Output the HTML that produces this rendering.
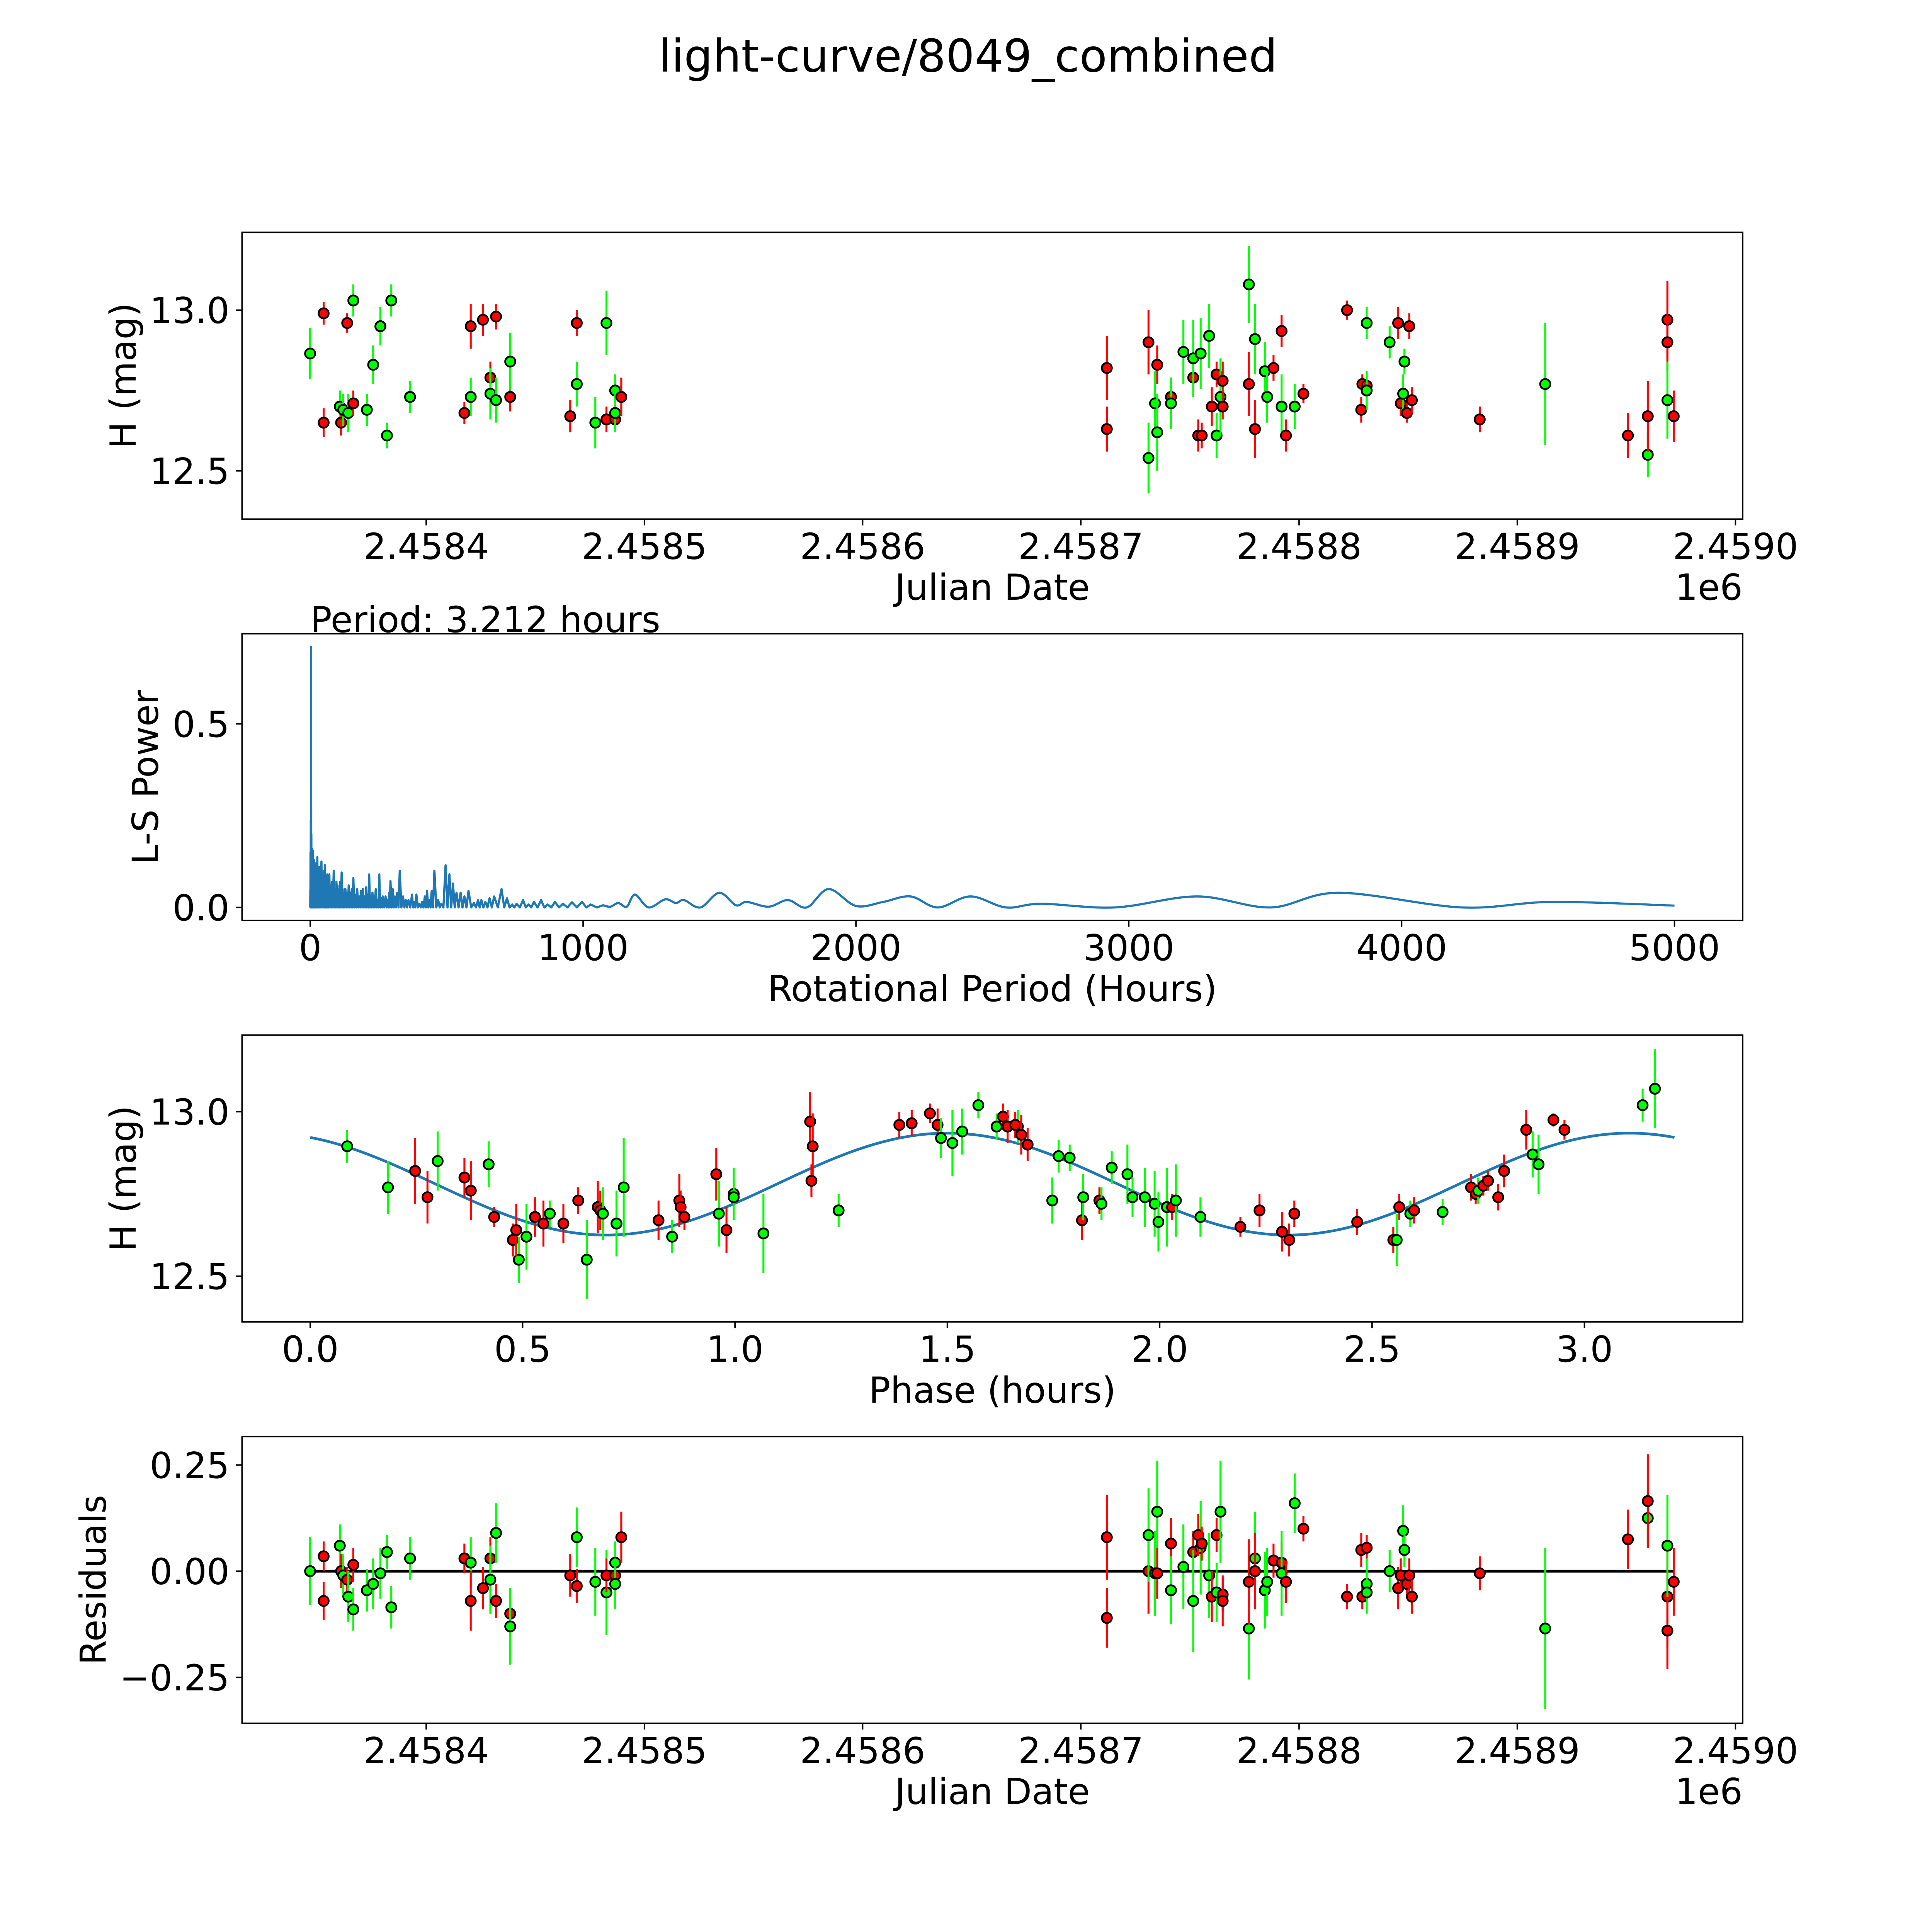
<!DOCTYPE html>
<html><head><meta charset="utf-8"><title>light-curve/8049_combined</title>
<style>html,body{margin:0;padding:0;background:#fff;overflow:hidden}svg{display:block}text{font-family:"DejaVu Sans","Liberation Sans",sans-serif;fill:#000}</style>
</head><body>
<svg id="fig" xmlns="http://www.w3.org/2000/svg" width="5400" height="5400" viewBox="0 0 5819 5819">
<rect width="5819" height="5819" fill="#fff"/>
<text x="2700" y="200" font-size="126" text-anchor="middle">light-curve/8049_combined</text>
<g id="layer"></g>
</svg>
<script>
// ---------- Panel 1 & 4 data (JD - 2458000) ----------
const jd=[346.8,353,353,360.4,361,362,363.8,364.3,366.6,366.6,372.8,375.7,379,382,384,392.6,417.5,420.4,420.4,426,429.4,429.4,432,432,438.5,438.5,466,469,469,477.5,482.6,482.6,486.6,486.6,486.6,489.4,711.9,711.9,731,731,734,735,735,741.3,741.3,747,751.5,751.5,754.9,753.8,755.4,758.8,760,762.2,762.2,764,765,765,777,777,779.8,779.8,784.3,785.4,788.3,792,792,794,798,802,822,828.5,829,831,831,831,841.5,845.4,846.6,847.7,848.3,849.4,850.5,851.7,882.8,912.8,950.7,959.8,959.8,968.8,968.8,968.8,971.7];
const mag=[12.865,12.99,12.65,12.70,12.65,12.69,12.96,12.68,12.71,13.03,12.69,12.83,12.95,12.61,13.03,12.73,12.68,12.73,12.95,12.97,12.79,12.74,12.98,12.72,12.73,12.84,12.67,12.96,12.77,12.65,12.96,12.66,12.66,12.75,12.68,12.73,12.82,12.63,12.90,12.54,12.71,12.62,12.83,12.73,12.71,12.87,12.79,12.85,12.865,12.61,12.61,12.92,12.70,12.80,12.61,12.73,12.70,12.78,13.08,12.77,12.91,12.63,12.81,12.73,12.82,12.935,12.70,12.61,12.70,12.74,13.0,12.69,12.77,12.765,12.75,12.96,12.90,12.96,12.71,12.74,12.84,12.68,12.95,12.72,12.66,12.77,12.61,12.55,12.67,12.97,12.90,12.72,12.67];
const magErr=[.08,.035,.045,.05,.04,.05,.03,.06,.04,.05,.05,.06,.06,.04,.05,.05,.035,.06,.07,.05,.05,.08,.04,.07,.045,.09,.05,.04,.07,.08,.1,.04,.04,.05,.06,.06,.1,.07,.1,.11,.1,.12,.06,.06,.08,.1,.05,.12,.11,.05,.04,.1,.06,.04,.07,.12,.04,.06,.12,.1,.11,.09,.09,.08,.04,.05,.1,.05,.07,.03,.03,.04,.03,.03,.06,.05,.05,.05,.04,.06,.04,.03,.04,.04,.04,.19,.07,.07,.11,.12,.09,.12,.08];
const band=("grrgrgrgrg"+"ggggggrgrr"+"rgrgrgrrgg"+"grrggrrrrg"+"ggrrggrggr"+"rgrrggrrgr"+"grggrrgrgr"+"rrrrgggrrg"+"grrrrgrgrr"+"rgr").split("");
const resid=[0,.035,-.07,.06,0,-.01,-.02,-.06,.015,-.09,-.045,-.03,-.005,.045,-.085,.03,.03,.02,-.07,-.04,.03,-.02,-.07,.09,-.1,-.13,-.01,-.035,.08,-.025,-.05,-.01,-.01,.02,-.03,.08,.08,-.11,0,.085,-.005,.14,-.005,.065,-.045,.01,.045,-.07,.055,.085,.065,-.01,-.06,.085,-.05,.14,-.055,-.07,-.135,-.025,.03,0,-.045,-.025,.025,.02,-.005,-.025,.16,.1,-.06,.05,-.06,.055,-.03,-.05,0,-.04,-.01,.095,.05,-.03,-.01,-.06,-.005,-.135,.075,.125,.165,-.06,-.14,.06,-.025];
const jdTicks=[400,500,600,700,800,900,1000];
const jdTickLabels=["2.4584","2.4585","2.4586","2.4587","2.4588","2.4589","2.4590"];
const magTicks=[12.5,13.0];
const magTickLabels=["12.5","13.0"];
const residTicks=[-0.25,0,0.25];
const residTickLabels=["\u22120.25","0.00","0.25"];
// ---------- Panel 2: Lomb-Scargle ----------
const lsPeakP=[0.5,1,2,3.212,4,5.5,7,9,11,13,15,18,21,24,26,29,33,37,41,45,50,54,58,62,66,70,75,80,86,92,96,100,105,110,115,120,125,129,135,141,147,152,158,165,172,180,186,193,199,205,210,216,222,228,234,240,247,253,260,266,276,283,289,294,302,310,319,328,340,350,360,373,381,389,400,410,420,428,437,445,455,469,480,496,510,523,536,551,565,580,600,615,627,642,657,674,701,721,740,756,780,800,820,846,870,897,926,959,996,1028,1073];
const lsPeakV=[0.05,0.15,0.237,0.71,0.2,0.13,0.16,0.155,0.12,0.13,0.11,0.12,0.1,0.12,0.137,0.09,0.11,0.1,0.125,0.08,0.1,0.115,0.07,0.09,0.08,0.09,0.06,0.07,0.1,0.05,0.07,0.06,0.05,0.07,0.095,0.04,0.05,0.05,0.04,0.06,0.04,0.05,0.08,0.035,0.05,0.03,0.045,0.05,0.03,0.055,0.035,0.09,0.03,0.04,0.03,0.05,0.02,0.09,0.025,0.03,0.03,0.02,0.04,0.072,0.05,0.03,0.04,0.1,0.03,0.02,0.02,0.035,0.015,0.035,0.01,0.015,0.03,0.045,0.02,0.045,0.1,0.02,0.01,0.115,0.09,0.065,0.04,0.04,0.03,0.045,0.012,0.02,0.02,0.015,0.025,0.03,0.05,0.025,0.008,0.01,0.02,0.008,0.015,0.02,0.008,0.015,0.01,0.014,0.015,0.008,0.006];
const lsSmoothP=[1073,1100,1129,1160,1190,1240,1301,1340,1370,1430,1499,1560,1600,1680,1750,1820,1900,2000,2100,2200,2300,2420,2550,2680,2950,3250,3520,3770,4220,4550,5000];
const lsSmoothV=[0.006,0.002,0.012,0.002,0.035,0.0,0.022,0.012,0.02,0.0,0.04,0.006,0.015,0.002,0.02,0.0,0.05,0.004,0.015,0.03,0.0,0.03,0.0,0.01,0.0,0.03,0.0,0.04,0.0,0.015,0.005];
const bestPeriod=3.212;
const lsXTicks=[0,1000,2000,3000,4000,5000];
const lsXTickLabels=["0","1000","2000","3000","4000","5000"];
const lsYTicks=[0,0.5];
const lsYTickLabels=["0.0","0.5"];
// ---------- Panel 3: phased ----------
const ph=[.087,.183,.247,.276,.30,.363,.378,.42,.433,.477,.491,.485,.509,.529,.549,.564,.596,.631,.651,.677,.683,.689,.721,.738,.82,.852,.869,.872,.881,.956,.962,.98,.997,.997,1.067,1.177,1.183,1.18,1.244,1.387,1.416,1.459,1.477,1.485,1.512,1.535,1.573,1.616,1.631,1.642,1.666,1.66,1.674,1.689,1.747,1.762,1.788,1.817,1.82,1.858,1.863,1.887,1.924,1.936,1.965,1.988,1.997,2.017,2.029,2.038,2.096,2.19,2.235,2.288,2.305,2.317,2.465,2.55,2.558,2.564,2.59,2.599,2.666,2.733,2.744,2.75,2.762,2.773,2.797,2.811,2.863,2.878,2.892,2.927,2.953,3.137,3.166];
const phMag=[12.895,12.77,12.82,12.74,12.85,12.80,12.76,12.84,12.68,12.61,12.55,12.64,12.62,12.68,12.66,12.69,12.66,12.73,12.55,12.71,12.70,12.69,12.66,12.77,12.67,12.62,12.73,12.71,12.68,12.81,12.69,12.64,12.75,12.74,12.63,12.97,12.895,12.79,12.70,12.96,12.965,12.995,12.96,12.92,12.905,12.94,13.02,12.955,12.985,12.955,12.955,12.96,12.93,12.90,12.73,12.865,12.86,12.67,12.74,12.73,12.72,12.83,12.81,12.74,12.74,12.72,12.665,12.71,12.71,12.73,12.68,12.65,12.70,12.635,12.61,12.69,12.665,12.61,12.61,12.71,12.69,12.70,12.695,12.77,12.75,12.76,12.775,12.79,12.74,12.82,12.945,12.87,12.84,12.975,12.945,13.02,13.07];
const phErr=[.05,.08,.1,.08,.09,.06,.09,.07,.03,.05,.07,.08,.1,.06,.07,.04,.06,.04,.12,.08,.06,.08,.1,.15,.06,.05,.08,.05,.04,.08,.1,.07,.08,.05,.12,.09,.1,.05,.05,.04,.04,.03,.05,.06,.1,.07,.04,.04,.04,.05,.05,.04,.06,.05,.07,.05,.04,.06,.07,.04,.05,.05,.09,.06,.09,.1,.09,.12,.04,.11,.06,.03,.05,.06,.05,.04,.04,.04,.08,.04,.04,.04,.04,.04,.03,.04,.03,.03,.04,.05,.06,.07,.09,.02,.03,.05,.12];
const phBand=("ggrrgrrgrr"+"grgrrgrrgr"+"rgggrgrrrr"+"grgggrrrgr"+"rrrgggggrr"+"grrrgggrgr"+"ggggggggrg"+"grrrrrrrgr"+"grgrrgrrrr"+"rggrrgg").split("");
const fitMean=12.78, fitAmp=0.155, fitPeak=1.5, fitHalfPeriod=bestPeriod/2;
const phTicks=[0,0.5,1,1.5,2,2.5,3];
const phTickLabels=["0.0","0.5","1.0","1.5","2.0","2.5","3.0"];

const NS="http://www.w3.org/2000/svg";
const layer=document.getElementById('layer');
const L=675,R=4860,H=799.6,tops=[648,1767.4,2886.8,4006.2];
function mk(tag,attrs,parent){const e=document.createElementNS(NS,tag);for(const k in attrs)e.setAttribute(k,attrs[k]);(parent||layer).appendChild(e);return e;}
function axis(i,xl,yl){const t=tops[i],b=t+H;return {t:t,b:b,x:v=>L+(v-xl[0])/(xl[1]-xl[0])*(R-L),y:v=>b-(v-yl[0])/(yl[1]-yl[0])*H};}
function frame(a,name,xt,xtl,yt,ytl,xlabel,ylabel,ylabX,offset){
  const g=mk('g',{});
  
  
  const r=mk('rect',{x:L,y:a.t,width:R-L,height:H,fill:'none',stroke:'#000','stroke-width':4},g);
  
  
  xt.forEach((v,k)=>{const x=a.x(v);
    const tk=mk('line',{x1:x,x2:x,y1:a.b,y2:a.b+17.5,stroke:'#000','stroke-width':4},g);
    
    
    const tl=mk('text',{x:x,y:a.b+111,'font-size':100,'text-anchor':'middle'},g);tl.textContent=xtl[k];
    
    });
  yt.forEach((v,k)=>{const y=a.y(v);
    const tk=mk('line',{x1:L-17.5,x2:L,y1:y,y2:y,stroke:'#000','stroke-width':4},g);
    
    
    const tl=mk('text',{x:L-35,y:y+36,'font-size':100,'text-anchor':'end'},g);tl.textContent=ytl[k];
    
    });
  const xlab=mk('text',{x:(L+R)/2,y:a.b+225,'font-size':100,'text-anchor':'middle'},g);xlab.textContent=xlabel;
  
  
  const cy=(a.t+a.b)/2;
  const ylab=mk('text',{x:ylabX,y:cy,'font-size':100,'text-anchor':'middle',transform:`rotate(-90 ${ylabX} ${cy})`},g);ylab.textContent=ylabel;
  
  
  if(offset){const o=mk('text',{x:R,y:a.b+225,'font-size':100,'text-anchor':'end'},g);o.textContent=offset;
    
    }
}
const col={r:'#ff0000',g:'#00ff00'};
function points(a,xs,ys,es,bs,name){
  const g=mk('g',{});
  
  
  xs.forEach((v,k)=>{const x=a.x(v),c=col[bs[k]]||'#00ff00';
    const eb=mk('line',{x1:x,x2:x,y1:a.y(ys[k]-es[k]),y2:a.y(ys[k]+es[k]),stroke:c,'stroke-width':5.5},g);
    
    
    const p=mk('circle',{cx:x,cy:a.y(ys[k]),r:14,fill:c,stroke:'#000','stroke-width':5},g);
    
    });
}
// Panel 1
const jdXL=[315.6,1003.3];
const a1=axis(0,jdXL,[12.35,13.242]);
frame(a1,'raw-light-curve-panel',jdTicks,jdTickLabels,magTicks,magTickLabels,'Julian Date','H (mag)',378,'1e6');
points(a1,jd,mag,magErr,band,'raw-points');
// Panel 2
const a2=axis(1,[-250,5250],[-0.0355,0.7455]);
frame(a2,'periodogram-panel',lsXTicks,lsXTickLabels,lsYTicks,lsYTickLabels,'Rotational Period (Hours)','L-S Power',440,null);
(function(){
  let d=`M${a2.x(0)},${a2.y(0)}`;
  lsPeakP.forEach((p,k)=>{
    d+=` L${a2.x(p)},${a2.y(lsPeakV[k])}`;
    if(k<lsPeakP.length-1){const m=(p+lsPeakP[k+1])/2;d+=` L${a2.x(m)},${a2.y(0)}`;}
  });
  const P=lsSmoothP.map(p=>a2.x(p)),V=lsSmoothV.map(v=>a2.y(v));
  for(let i=0;i<P.length-1;i++){
    const x0=P[Math.max(i-1,0)],y0=V[Math.max(i-1,0)],x1=P[i],y1=V[i],x2=P[i+1],y2=V[i+1],x3=P[Math.min(i+2,P.length-1)],y3=V[Math.min(i+2,P.length-1)];
    if(i===0)d+=` L${x1},${y1}`;
    d+=` C${x1+(x2-x0)/6},${y1+(y2-y0)/6} ${x2-(x3-x1)/6},${y2-(y3-y1)/6} ${x2},${y2}`;
  }
  const ln=mk('path',{d:d,fill:'none',stroke:'#1f77b4','stroke-width':6,'stroke-linejoin':'round'});
  
  
  const t=mk('text',{x:a2.x(0),y:a2.y(0.75),'font-size':100});t.textContent='Period: '+bestPeriod+' hours';
  
  
})();
// Panel 3
const a3=axis(2,[-0.1606,3.3726],[12.361,13.233]);
frame(a3,'phased-curve-panel',phTicks,phTickLabels,magTicks,magTickLabels,'Phase (hours)','H (mag)',378,null);
(function(){
  let d='';const n=200;
  for(let i=0;i<=n;i++){const x=bestPeriod*i/n;const y=fitMean+fitAmp*Math.cos(2*Math.PI*(x-fitPeak)/fitHalfPeriod);
    d+=(i?' L':'M')+a3.x(x)+','+a3.y(y);}
  const c=mk('path',{d:d,fill:'none',stroke:'#1f77b4','stroke-width':7.5});
  
  
})();
points(a3,ph,phMag,phErr,phBand,'phased-points');
// Panel 4
const a4=axis(3,jdXL,[-0.358,0.317]);
frame(a4,'residuals-panel',jdTicks,jdTickLabels,residTicks,residTickLabels,'Julian Date','Residuals',295,'1e6');
(function(){
  const zl=mk('line',{x1:a4.x(Math.min(...jd)),x2:a4.x(Math.max(...jd)),y1:a4.y(0),y2:a4.y(0),stroke:'#000','stroke-width':7.5});
  
  
})();
points(a4,jd,resid,magErr,band,'residual-points');
</script>
</body></html>
